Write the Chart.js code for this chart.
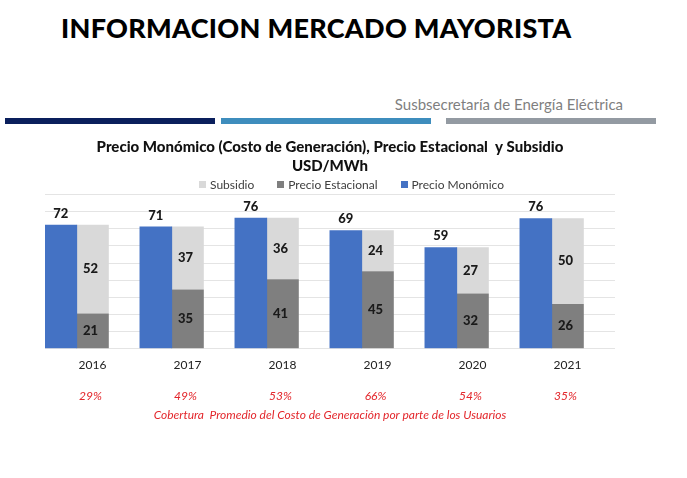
<!DOCTYPE html>
<html>
<head>
<meta charset="utf-8">
<script src="https://cdn.jsdelivr.net/npm/chart.js@4"></script>
<style>
  body { margin: 0; width: 687px; height: 478px; background: #fff; position: relative; overflow: hidden; font-family: Lato, sans-serif; }
  #heading { position: absolute; left: 61px; top: 11px; font: 900 27px Lato, sans-serif; color: #000; white-space: nowrap; letter-spacing: 0.3px; }
  #office { position: absolute; right: 64px; top: 95px; font: 15px Lato, sans-serif; color: #7f7f7f; white-space: nowrap; }
  .strip { position: absolute; top: 118px; height: 6px; width: 210px; }
  #wrap { position: absolute; left: 0; top: 128px; width: 687px; height: 294px; }
  #legend { position: absolute; left: 199px; top: 176px; height: 17px; display: flex; align-items: center; font: 12px Lato, sans-serif; color: #404040; white-space: nowrap; }
  #legend span.item { display: flex; align-items: center; margin-right: 23px; }
  #legend i { display: inline-block; width: 7px; height: 7px; margin-right: 4px; }
</style>
</head>
<body>
<div id="heading">INFORMACION MERCADO MAYORISTA</div>
<div id="office">Susbsecretaría de Energía Eléctrica</div>
<div class="strip" style="left:5px;background:#0a1f5c"></div>
<div class="strip" style="left:221px;background:#3e8dbd"></div>
<div class="strip" style="left:446px;background:#939aa2"></div>
<div id="wrap"><canvas id="chart"></canvas></div>
<div id="legend"></div>
<script>
const years = ["2016", "2017", "2018", "2019", "2020", "2021"];
const monomico = [72.4, 71.3, 76.4, 69.2, 59.2, 76.2];
const estacional = [20.6, 34.6, 40.6, 45.2, 32.2, 26.2];
const subsidio = [51.8, 36.7, 35.8, 24.0, 27.0, 50.0];
const coverage = ["29%", "49%", "53%", "66%", "54%", "35%"];

const RED = "#e3262b";

// numbers on the bars: above the blue one, centred inside the gray ones
const valueLabels = {
  id: "valueLabels",
  afterDatasetsDraw(chart) {
    const ctx = chart.ctx;
    ctx.save();
    ctx.font = "900 13px Lato";
    ctx.fillStyle = "#1a1a1a";
    ctx.textAlign = "center";
    ctx.textBaseline = "middle";
    chart.data.datasets.forEach((ds, i) => {
      if (!ds.label) return;
      chart.getDatasetMeta(i).data.forEach((bar, j) => {
        const v = ds.data[j];
        if (v == null) return;
        const y = ds.stack === "mono" ? bar.y - 11 : (bar.y + bar.base) / 2;
        const x = ds.stack === "mono" ? bar.x : bar.x - 2;
        ctx.fillText(Math.round(v), x, y);
      });
    });
    ctx.restore();
  }
};

const chart = new Chart(document.getElementById("chart"), {
  type: "bar",
  data: {
    labels: years,
    datasets: [
      { label: "Precio Monómico", data: monomico, backgroundColor: "#4472c4", stack: "mono" },
      { label: "Precio Estacional", data: estacional, backgroundColor: "#7f7f7f", stack: "est" },
      { label: "Subsidio", data: subsidio, backgroundColor: "#d9d9d9", stack: "est" },
      // empty slot so each pair sits at the left of its category
      { label: "", data: years.map(() => null), stack: "gap" }
    ]
  },
  options: {
    responsive: true,
    maintainAspectRatio: false,
    animation: false,
    categoryPercentage: 1,
    barPercentage: 1.03,
    layout: { padding: { left: 45, right: 72, top: 6, bottom: 0 } },
    plugins: {
      tooltip: { enabled: false },
      legend: { display: false },
      title: {
        display: true,
        text: ["Precio Monómico (Costo de Generación), Precio Estacional  y Subsidio", "USD/MWh"],
        color: "#111",
        font: { family: "Lato", size: 15, weight: 900, lineHeight: 1.25 },
        padding: { top: 4, bottom: 19 }
      }
    },
    scales: {
      x: {
        stacked: true,
        weight: 0,
        grid: { display: false, drawTicks: false },
        border: { display: false },
        ticks: { color: "#222", padding: 9, font: { family: "Lato", size: 12 } }
      },
      x2: {
        type: "category",
        labels: coverage,
        position: "bottom",
        offset: true,
        weight: 1,
        grid: { display: false, drawTicks: false },
        border: { display: false },
        ticks: { color: RED, padding: 8, labelOffset: -2, font: { family: "Lato", size: 12, style: "italic" } },
        title: {
          display: true,
          text: "Cobertura  Promedio del Costo de Generación por parte de los Usuarios",
          color: RED,
          font: { family: "Lato", size: 12, style: "italic" },
          padding: { top: -4, bottom: 0 }
        }
      },
      y: {
        stacked: true,
        min: 0,
        max: 90,
        ticks: { display: false, stepSize: 10 },
        border: { display: false },
        grid: { color: "#e4e4e4", drawTicks: false }
      }
    }
  },
  plugins: [valueLabels]
});

// legend as HTML, same order as the reference (Subsidio first)
const items = Chart.defaults.plugins.legend.labels.generateLabels(chart)
  .filter(it => it.text !== "")
  .reverse();
document.getElementById("legend").innerHTML = items
  .map(it => `<span class="item"><i style="background:${it.fillStyle}"></i>${it.text}</span>`)
  .join("");
</script>
</body>
</html>
